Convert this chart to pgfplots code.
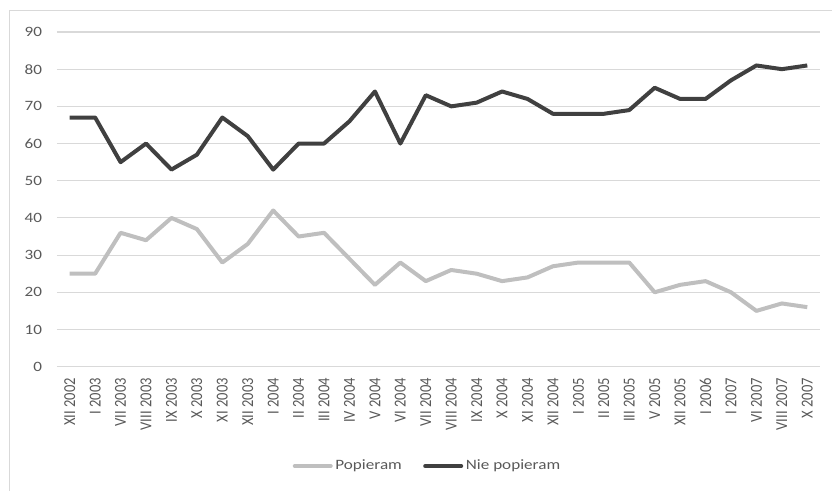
\documentclass[border=0pt]{standalone}
\usepackage{fontspec}
\setmainfont{Carlito}[FakeStretch=1.2]
\newfontfamily\xlabfont{Carlito}
\usepackage{pgfplots}
\pgfplotsset{compat=1.18}
\definecolor{darkline}{HTML}{404040}
\definecolor{lightline}{HTML}{BFBFBF}
\definecolor{txt}{HTML}{595959}
\definecolor{gridc}{HTML}{D9D9D9}
\newcommand\XL[1]{\scalebox{1}[1.15]{#1}}
\begin{document}
\begin{tikzpicture}
\useasboundingbox (-42.75pt,-93.2pt) rectangle (581.25pt,275pt);
\draw[gridc, line width=1pt] (-35.6pt,-100pt) -- (-35.6pt,267.1pt) -- (590pt,267.1pt);
\begin{axis}[
  at={(0,0)}, anchor=south west,
  scale only axis, width=572.25pt, height=251pt,
  xmin=-0.5, xmax=29.5, ymin=0, ymax=90,
  ytick={0,10,...,90},
  xtick={0,...,29},
  xticklabels={\XL{XII 2002},\XL{I 2003},\XL{VII 2003},\XL{VIII 2003},\XL{IX 2003},\XL{X 2003},\XL{XI 2003},\XL{XII 2003},\XL{I 2004},\XL{II 2004},\XL{III 2004},\XL{IV 2004},\XL{V 2004},\XL{VI 2004},\XL{VII 2004},\XL{VIII 2004},\XL{IX 2004},\XL{X 2004},\XL{XI 2004},\XL{XII 2004},\XL{I 2005},\XL{II 2005},\XL{III 2005},\XL{V 2005},\XL{XII 2005},\XL{I 2006},\XL{I 2007},\XL{VI 2007},\XL{VIII 2007},\XL{X 2007}},
  axis line style={draw=none},
  major tick length=0pt,
  ymajorgrids, grid style={gridc, line width=0.8pt},
  /pgf/number format/assume math mode=true,
  yticklabel style={font=\fontsize{10.7}{12}\selectfont, text=txt, anchor=east, inner sep=0pt, xshift=-11pt},
  xticklabel style={font=\xlabfont\fontsize{10.9}{12}\selectfont, text=txt, rotate=90, anchor=east, inner sep=0pt, xshift=-8.5pt},
  legend columns=2,
  legend style={at={(0.486,-0.297)}, anchor=center, draw=none, fill=none, font=\fontsize{10.7}{12}\selectfont, text=txt,
    /tikz/every even column/.append style={column sep=14pt}, inner sep=0pt},
  legend image code/.code={\draw[#1, line cap=round] (0pt,0pt) -- (27pt,0pt);},
  every axis plot/.append style={line width=3pt, line join=round, mark=none},
]
\addplot[lightline] coordinates {
(0,25) (1,25) (2,36) (3,34) (4,40) (5,37) (6,28) (7,33) (8,42) (9,35)
(10,36) (11,29) (12,22) (13,28) (14,23) (15,26) (16,25) (17,23) (18,24) (19,27)
(20,28) (21,28) (22,28) (23,20) (24,22) (25,23) (26,20) (27,15) (28,17) (29,16)};
\addlegendentry{Popieram}
\addplot[darkline] coordinates {
(0,67) (1,67) (2,55) (3,60) (4,53) (5,57) (6,67) (7,62) (8,53) (9,60)
(10,60) (11,66) (12,74) (13,60) (14,73) (15,70) (16,71) (17,74) (18,72) (19,68)
(20,68) (21,68) (22,69) (23,75) (24,72) (25,72) (26,77) (27,81) (28,80) (29,81)};
\addlegendentry{Nie popieram}
\end{axis}
\end{tikzpicture}
\end{document}
